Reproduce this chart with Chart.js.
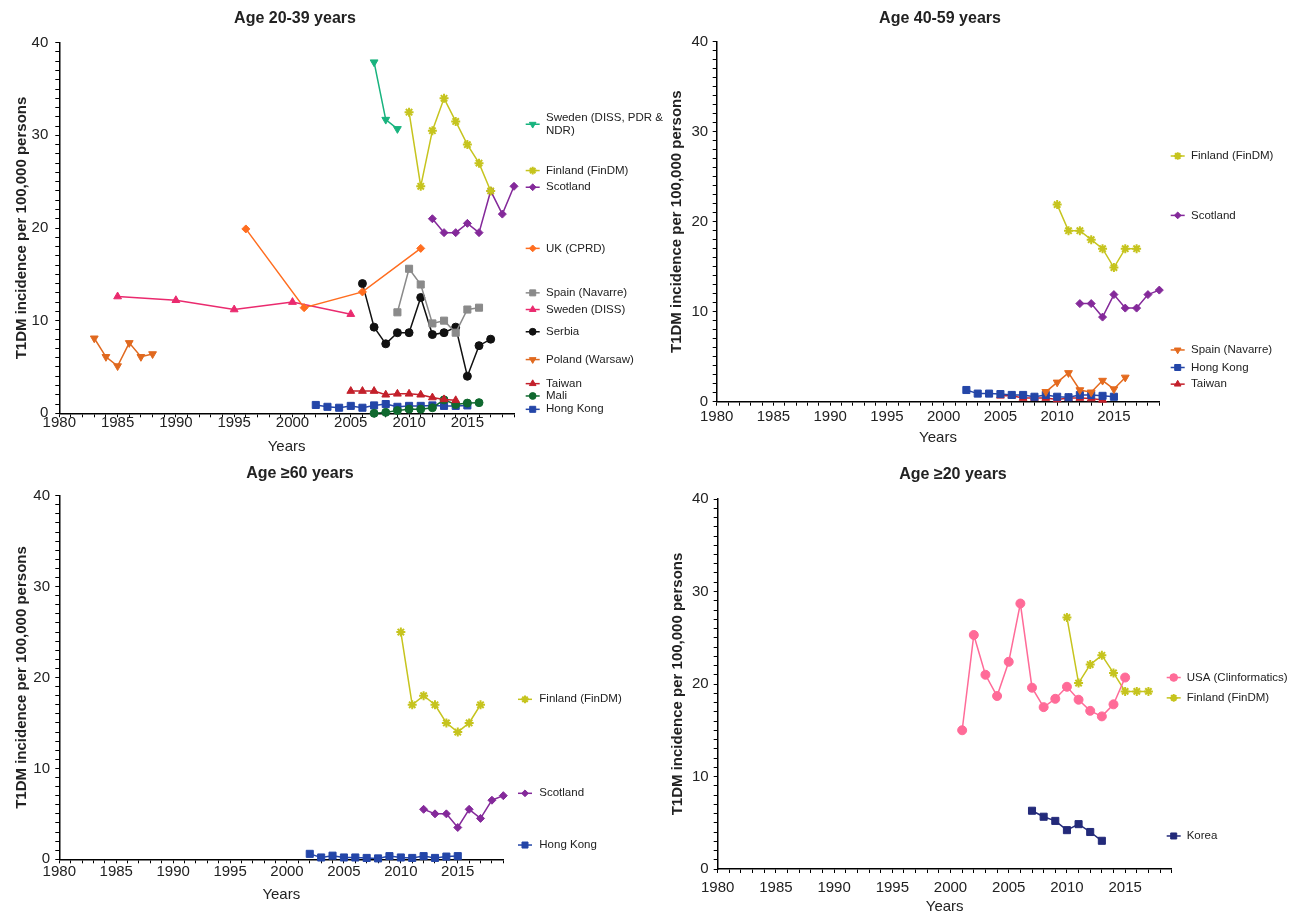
<!DOCTYPE html>
<html lang="en">
<head>
<meta charset="UTF-8">
<title>T1DM incidence in adults by age group</title>
<script src="https://cdn.jsdelivr.net/npm/chart.js"></script>
<style>
    body { margin: 0; background: #fff; }
    #page { position: relative; width: 1289px; height: 914px; overflow: hidden; }
    .panel { position: absolute; }
    .panel canvas { display: block; }
</style>
</head>
<body>
<div id="page">
    <div class="panel" style="left:0;top:0"><canvas id="c1" width="670" height="458"></canvas></div>
    <div class="panel" style="left:645px;top:0"><canvas id="c2" width="644" height="458"></canvas></div>
    <div class="panel" style="left:0;top:458px"><canvas id="c3" width="670" height="456"></canvas></div>
    <div class="panel" style="left:645px;top:458px"><canvas id="c4" width="644" height="456"></canvas></div>
</div>

<script>
// ---- data ----
const ageGroups = ['Age 20-39 years', 'Age 40-59 years', 'Age \u226560 years', 'Age \u226520 years'];
const xTickLabels = [1980, 1985, 1990, 1995, 2000, 2005, 2010, 2015];
const yTickLabels = [0, 10, 20, 30, 40];

// Age 20-39
const g1SwedenAllYears = [2007, 2008, 2009];
const g1SwedenAll = [37.9, 31.7, 30.7];
const g1FinlandYears = [2010, 2011, 2012, 2013, 2014, 2015, 2016, 2017];
const g1Finland = [32.5, 24.5, 30.5, 34.0, 31.5, 29.0, 27.0, 24.0];
const g1ScotlandYears = [2012, 2013, 2014, 2015, 2016, 2017, 2018, 2019];
const g1Scotland = [21.0, 19.5, 19.5, 20.5, 19.5, 24.0, 21.5, 24.5];
const g1UkYears = [1996, 2001, 2006, 2011];
const g1Uk = [19.9, 11.4, 13.1, 17.8];
const g1SpainYears = [2009, 2010, 2011, 2012, 2013, 2014, 2015, 2016];
const g1Spain = [10.9, 15.6, 13.9, 9.7, 10.0, 8.7, 11.2, 11.4];
const g1SwedenDissYears = [1985, 1990, 1995, 2000, 2005];
const g1SwedenDiss = [12.6, 12.2, 11.2, 12.0, 10.7];
const g1SerbiaYears = [2006, 2007, 2008, 2009, 2010, 2011, 2012, 2013, 2014, 2015, 2016, 2017];
const g1Serbia = [14.0, 9.3, 7.5, 8.7, 8.7, 12.5, 8.5, 8.7, 9.3, 4.0, 7.3, 8.0];
const g1PolandYears = [1983, 1984, 1985, 1986, 1987, 1988];
const g1Poland = [8.1, 6.1, 5.1, 7.6, 6.1, 6.4];
const g1TaiwanYears = [2005, 2006, 2007, 2008, 2009, 2010, 2011, 2012, 2013, 2014];
const g1Taiwan = [2.4, 2.4, 2.4, 2.0, 2.1, 2.1, 2.0, 1.7, 1.5, 1.4];
const g1MaliYears = [2007, 2008, 2009, 2010, 2011, 2012, 2013, 2014, 2015, 2016];
const g1Mali = [0.0, 0.1, 0.3, 0.45, 0.45, 0.6, 1.45, 0.95, 1.1, 1.15];
const g1HongKongYears = [2002, 2003, 2004, 2005, 2006, 2007, 2008, 2009, 2010, 2011, 2012, 2013, 2014, 2015];
const g1HongKong = [0.9, 0.7, 0.6, 0.8, 0.6, 0.85, 1.0, 0.7, 0.8, 0.8, 0.85, 0.8, 0.8, 0.85];

// Age 40-59
const g2FinlandYears = [2010, 2011, 2012, 2013, 2014, 2015, 2016, 2017];
const g2Finland = [21.9, 19.0, 19.0, 18.0, 17.0, 14.9, 17.0, 17.0];
const g2ScotlandYears = [2012, 2013, 2014, 2015, 2016, 2017, 2018, 2019];
const g2Scotland = [10.9, 10.9, 9.4, 11.9, 10.4, 10.4, 11.9, 12.4];
const g2SpainYears = [2009, 2010, 2011, 2012, 2013, 2014, 2015, 2016];
const g2Spain = [1.1, 2.15, 3.2, 1.3, 1.05, 2.35, 1.4, 2.7];
const g2HongKongYears = [2002, 2003, 2004, 2005, 2006, 2007, 2008, 2009, 2010, 2011, 2012, 2013, 2014, 2015];
const g2HongKong = [1.3, 0.9, 0.9, 0.85, 0.75, 0.75, 0.55, 0.75, 0.55, 0.5, 0.75, 0.75, 0.65, 0.55];
const g2TaiwanYears = [2005, 2006, 2007, 2008, 2009, 2010, 2011, 2012, 2013, 2014];
const g2Taiwan = [0.65, 0.65, 0.4, 0.4, 0.4, 0.25, 0.4, 0.4, 0.35, 0.2];

// Age >=60
const g3FinlandYears = [2010, 2011, 2012, 2013, 2014, 2015, 2016, 2017];
const g3Finland = [25.0, 17.0, 18.0, 17.0, 15.0, 14.0, 15.0, 17.0];
const g3ScotlandYears = [2012, 2013, 2014, 2015, 2016, 2017, 2018, 2019];
const g3Scotland = [5.5, 5.0, 5.0, 3.5, 5.5, 4.5, 6.5, 7.0];
const g3HongKongYears = [2002, 2003, 2004, 2005, 2006, 2007, 2008, 2009, 2010, 2011, 2012, 2013, 2014, 2015];
const g3HongKong = [0.6, 0.2, 0.4, 0.2, 0.2, 0.15, 0.1, 0.35, 0.2, 0.15, 0.35, 0.15, 0.3, 0.35];

// Age >=20
const g4UsaYears = [2001, 2002, 2003, 2004, 2005, 2006, 2007, 2008, 2009, 2010, 2011, 2012, 2013, 2014, 2015];
const g4Usa = [15.0, 25.3, 21.0, 18.7, 22.4, 28.7, 19.6, 17.5, 18.4, 19.7, 18.3, 17.1, 16.5, 17.8, 20.7];
const g4FinlandYears = [2010, 2011, 2012, 2013, 2014, 2015, 2016, 2017];
const g4Finland = [27.2, 20.1, 22.1, 23.1, 21.2, 19.2, 19.2, 19.2];
const g4KoreaYears = [2007, 2008, 2009, 2010, 2011, 2012, 2013];
const g4Korea = [6.3, 5.65, 5.2, 4.2, 4.85, 4.0, 3.05];

// ---- styles ----
const FONT = "'Liberation Sans', Arial, Helvetica, sans-serif";
const TEXT = '#222';

const looks = {
    swedenAll: { color: '#18b37e', shape: 'triangle', rot: 180, r: 4.5 },
    finland:   { color: '#c6c41e', shape: 'star', rot: 0, r: 4.5, bw: 2 },
    scotland:  { color: '#84299a', shape: 'rectRot', rot: 0, r: 4 },
    uk:        { color: '#ff6d1f', shape: 'rectRot', rot: 0, r: 4 },
    spainGrey: { color: '#8a8a8a', shape: 'rect', rot: 0, r: 5 },
    spainOr:   { color: '#e46a1e', shape: 'triangle', rot: 180, r: 4.5 },
    swedenDiss:{ color: '#ea2a6e', shape: 'triangle', rot: 0, r: 4.5 },
    serbia:    { color: '#111111', shape: 'circle', rot: 0, r: 4 },
    poland:    { color: '#e0691f', shape: 'triangle', rot: 180, r: 4.5 },
    taiwan:    { color: '#c3202b', shape: 'triangle', rot: 0, r: 4.5 },
    mali:      { color: '#10692f', shape: 'circle', rot: 0, r: 4 },
    hongKong:  { color: '#2446a8', shape: 'rect', rot: 0, r: 5 },
    usa:       { color: '#ff6b98', shape: 'circle', rot: 0, r: 4.5 },
    korea:     { color: '#232a7a', shape: 'rect', rot: 0, r: 5 }
};

function series(label, years, values, look) {
    const s = looks[look];
    return {
        label: Array.isArray(label) ? label.join(' ') : label,
        legendLines: Array.isArray(label) ? label : [label],
        data: years.map((yr, i) => ({ x: yr, y: values[i] })),
        borderColor: s.color,
        backgroundColor: s.color,
        borderWidth: 1.5,
        pointStyle: s.shape,
        pointRotation: s.rot,
        pointRadius: s.r,
        pointHoverRadius: s.r,
        pointBackgroundColor: s.color,
        pointBorderColor: s.color,
        pointBorderWidth: s.bw || 1,
        tension: 0,
        fill: false,
        clip: false
    };
}

// layout of each panel (page pixels); legendAt = legend entry height in data units
const panels = [
    {
        id: 'c1', title: ageGroups[0],
        box: { left: 0, top: 0, w: 670, h: 458 },
        area: { l: 59.3, r: 514, t: 42.7, b: 413.3 },
        titleX: 295, titleY: 18.7, yTitleX: 22, yearsY: 447, xGap: 10, yGap: 11,
        legendMark: 18.7, legendText: 32,
        legendAt: [31.2, 26.2, 24.4, 17.8, 13.0, 11.2, 8.8, 5.8, 3.2, 1.87, 0.43],
        datasets: [
            series(['Sweden (DISS, PDR &', 'NDR)'], g1SwedenAllYears, g1SwedenAll, 'swedenAll'),
            series('Finland (FinDM)', g1FinlandYears, g1Finland, 'finland'),
            series('Scotland', g1ScotlandYears, g1Scotland, 'scotland'),
            series('UK (CPRD)', g1UkYears, g1Uk, 'uk'),
            series('Spain (Navarre)', g1SpainYears, g1Spain, 'spainGrey'),
            series('Sweden (DISS)', g1SwedenDissYears, g1SwedenDiss, 'swedenDiss'),
            series('Serbia', g1SerbiaYears, g1Serbia, 'serbia'),
            series('Poland (Warsaw)', g1PolandYears, g1Poland, 'poland'),
            series('Taiwan', g1TaiwanYears, g1Taiwan, 'taiwan'),
            series('Mali', g1MaliYears, g1Mali, 'mali'),
            series('Hong Kong', g1HongKongYears, g1HongKong, 'hongKong')
        ]
    },
    {
        id: 'c2', title: ageGroups[1],
        box: { left: 645, top: 0, w: 644, h: 458 },
        area: { l: 716.7, r: 1159.3, t: 41.7, b: 401.7 },
        titleX: 940, titleY: 18.7, yTitleX: 677, yearsY: 438, xGap: 15, yGap: 8.5,
        legendMark: 18.4, legendText: 31.7,
        legendAt: [27.3, 20.7, 5.75, 3.8, 1.95],
        datasets: [
            series('Finland (FinDM)', g2FinlandYears, g2Finland, 'finland'),
            series('Scotland', g2ScotlandYears, g2Scotland, 'scotland'),
            series('Spain (Navarre)', g2SpainYears, g2Spain, 'spainOr'),
            series('Hong Kong', g2HongKongYears, g2HongKong, 'hongKong'),
            series('Taiwan', g2TaiwanYears, g2Taiwan, 'taiwan')
        ]
    },
    {
        id: 'c3', title: ageGroups[2],
        box: { left: 0, top: 458, w: 670, h: 456 },
        area: { l: 59.3, r: 503.3, t: 495.7, b: 859.3 },
        titleX: 300, titleY: 474, yTitleX: 22, yearsY: 895, xGap: 12.4, yGap: 9.3,
        legendMark: 21.7, legendText: 36,
        legendAt: [17.6, 7.26, 1.57],
        datasets: [
            series('Finland (FinDM)', g3FinlandYears, g3Finland, 'finland'),
            series('Scotland', g3ScotlandYears, g3Scotland, 'scotland'),
            series('Hong Kong', g3HongKongYears, g3HongKong, 'hongKong')
        ]
    },
    {
        id: 'c4', title: ageGroups[3],
        box: { left: 645, top: 458, w: 644, h: 456 },
        area: { l: 717.7, r: 1171.7, t: 499, b: 869 },
        titleX: 953, titleY: 475, yTitleX: 678, yearsY: 906.5, xGap: 19, yGap: 9,
        legendMark: 2, legendText: 15,
        legendAt: [20.7, 18.5, 3.57],
        datasets: [
            series('USA (Clinformatics)', g4UsaYears, g4Usa, 'usa'),
            series('Finland (FinDM)', g4FinlandYears, g4Finland, 'finland'),
            series('Korea', g4KoreaYears, g4Korea, 'korea')
        ]
    }
];

// ---- plugins ----
const panelTitle = {
    id: 'panelTitle',
    afterDraw(chart, args, opts) {
        const ctx = chart.ctx;
        ctx.save();
        ctx.font = 'bold 16px ' + FONT;
        ctx.fillStyle = TEXT;
        ctx.textAlign = 'center';
        ctx.textBaseline = 'middle';
        ctx.fillText(opts.text, opts.x, opts.y);
        ctx.restore();
    }
};

const sideLegend = {
    id: 'sideLegend',
    afterDraw(chart, args, opts) {
        const { ctx, chartArea } = chart;
        const yScale = chart.scales.y;
        chart.data.datasets.forEach((ds, i) => {
            const py = yScale.getPixelForValue(opts.at[i]);
            const mx = chartArea.right + opts.mark;
            ctx.save();
            ctx.strokeStyle = ds.borderColor;
            ctx.lineWidth = 1.5;
            ctx.beginPath();
            ctx.moveTo(mx - 7, py);
            ctx.lineTo(mx + 7, py);
            ctx.stroke();
            ctx.fillStyle = ds.pointBackgroundColor;
            ctx.lineWidth = ds.pointBorderWidth;
            Chart.helpers.drawPoint(ctx, {
                pointStyle: ds.pointStyle,
                rotation: ds.pointRotation,
                radius: ds.pointRadius * 0.85,
                borderWidth: ds.pointBorderWidth
            }, mx, py);
            ctx.fillStyle = TEXT;
            ctx.font = '11.5px ' + FONT;
            ctx.textAlign = 'left';
            ctx.textBaseline = 'middle';
            const lines = ds.legendLines;
            const lh = 12.5;
            lines.forEach((t, k) => {
                ctx.fillText(t, chartArea.right + opts.text, py + (k - (lines.length - 1) / 2) * lh);
            });
            ctx.restore();
        });
    }
};

// ---- charts ----
panels.forEach(p => {
    const yWidth = p.area.l - p.box.left;
    const xHeight = p.box.top + p.box.h - p.area.b;
    const tickLen = 4;

    new Chart(document.getElementById(p.id), {
        type: 'line',
        data: { datasets: p.datasets },
        plugins: [panelTitle, sideLegend],
        options: {
            responsive: false,
            animation: false,
            events: [],
            layout: {
                padding: {
                    left: 0,
                    bottom: 0,
                    top: p.area.t - p.box.top,
                    right: p.box.left + p.box.w - p.area.r
                }
            },
            plugins: {
                legend: { display: false },
                tooltip: { enabled: false },
                title: { display: false },
                panelTitle: { text: p.title, x: p.titleX - p.box.left, y: p.titleY - p.box.top },
                sideLegend: { at: p.legendAt, mark: p.legendMark, text: p.legendText }
            },
            scales: {
                x: {
                    type: 'linear',
                    min: 1980,
                    max: 2019,
                    afterFit: s => { s.height = xHeight; },
                    ticks: {
                        stepSize: 1,
                        autoSkip: false,
                        maxRotation: 0,
                        padding: p.xGap - tickLen - 7.5,
                        color: TEXT,
                        font: { family: FONT, size: 15, lineHeight: 1 },
                        callback: v => xTickLabels.includes(v) ? String(v) : ''
                    },
                    grid: { display: true, drawOnChartArea: false, drawTicks: true, tickLength: tickLen, color: '#000', lineWidth: 1 },
                    border: { display: true, color: '#000', width: 1.5 },
                    title: {
                        display: true,
                        text: 'Years',
                        color: TEXT,
                        font: { family: FONT, size: 15, lineHeight: 1 },
                        padding: { top: 0, bottom: p.box.top + p.box.h - p.yearsY - 7.5 }
                    }
                },
                y: {
                    type: 'linear',
                    min: 0,
                    max: 40,
                    afterFit: s => { s.width = yWidth; },
                    ticks: {
                        stepSize: 1,
                        autoSkip: false,
                        padding: p.yGap - tickLen,
                        color: TEXT,
                        font: { family: FONT, size: 15, lineHeight: 1 },
                        callback: v => yTickLabels.includes(v) ? String(v) : ''
                    },
                    grid: { display: true, drawOnChartArea: false, drawTicks: true, tickLength: tickLen, color: '#000', lineWidth: 1 },
                    border: { display: true, color: '#000', width: 1.5 },
                    title: {
                        display: true,
                        text: 'T1DM incidence per 100,000 persons',
                        color: TEXT,
                        font: { family: FONT, size: 15, weight: 'bold', lineHeight: 1 },
                        padding: { top: p.yTitleX - p.box.left - 7.5, bottom: 0 }
                    }
                }
            }
        }
    });
});
</script>
</body>
</html>
